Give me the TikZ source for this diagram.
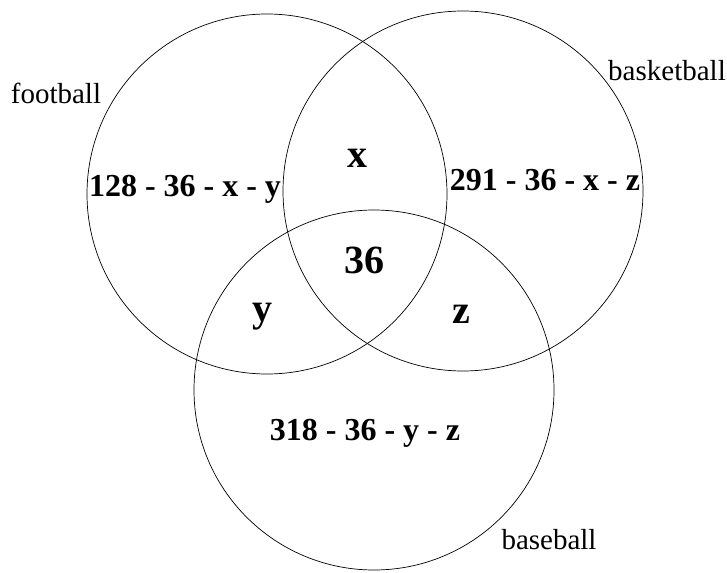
\documentclass[tikz,border=0pt]{standalone}
\usepackage{fontspec}
\setmainfont{Liberation Serif}

\begin{document}
\begin{tikzpicture}[
    x=1pt, y=-1pt,
    set/.style={draw, circle, line width=0.7pt, minimum size=360pt, inner sep=0pt},
    lab/.style={inner sep=0pt, font=\fontsize{29}{31}\selectfont},
    cnt/.style={inner sep=0pt, font=\fontsize{32}{34}\selectfont\bfseries},
    big/.style={inner sep=0pt, font=\fontsize{40}{42}\selectfont\bfseries},
  ]
  \useasboundingbox (0,0) rectangle (727,572);

  %% ---- the three sets ------------------------------------------------
  \node[set] (FB) at (267,194) {};
  \node[set] (KB) at (463,191) {};
  \node[set] (BB) at (374,390) {};

  %% ---- set names -----------------------------------------------------
  \node[lab] (fbname) at ( 56, 93) {football};
  \node[lab] (kbname) at (667, 71) {basketball};
  \node[lab] (bbname) at (549,540) {baseball};

  %% ---- region counts -------------------------------------------------
  \node[cnt] (fonly) at (185,189) {128 - 36 - x - y};
  \node[cnt] (konly) at (545,180) {291 - 36 - x - z};
  \node[cnt] (bonly) at (365,433) {318 - 36 - y - z};
  \node[big] (fk)    at (357,158) {x};
  \node[big] (fb)    at (262,317) {y};
  \node[big] (kb)    at (461,314) {z};
  \node[big] (all)   at (364,260) {36};

\end{tikzpicture}
\end{document}
